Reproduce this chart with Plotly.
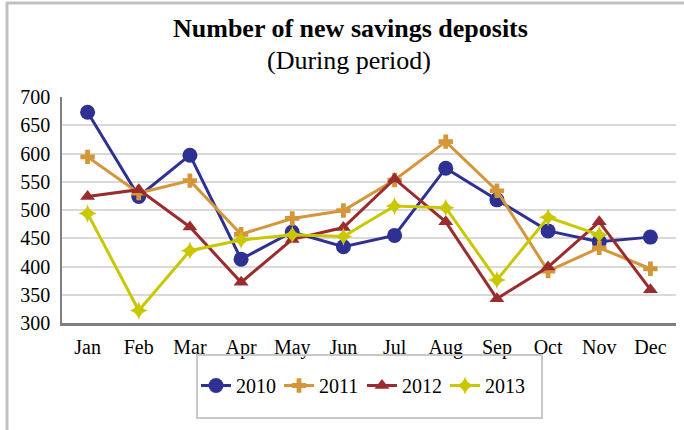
import plotly.graph_objects as go

months = ["Jan", "Feb", "Mar", "Apr", "May", "Jun", "Jul", "Aug", "Sep", "Oct", "Nov", "Dec"]
s2010 = [673, 524, 597, 413, 461, 435, 455, 574, 518, 463, 444, 452]
s2011 = [594, 530, 552, 457, 485, 499, 553, 621, 534, 392, 433, 396]
s2012 = [524, 536, 470, 372, 448, 469, 555, 479, 343, 399, 479, 359]
s2013 = [494, 322, 428, 447, 456, 453, 507, 504, 376, 487, 456, None]
y_ticks = [300, 350, 400, 450, 500, 550, 600, 650, 700]

series = [
    ("2010", s2010, "#2E3192", "circle", 15),
    ("2011", s2011, "#D4963A", "cross", 12),
    ("2012", s2012, "#9A2C2F", "triangle-up", 13),
    ("2013", s2013, "#C9C800", "star-diamond", 13),
]

W, H = 684, 430
L, R, T, B = 62, 676, 97, 323  # plot area in pixels


def px(x):
    return (x - L) / (R - L)


def py(y):
    return (B - y) / (B - T)


fig = go.Figure()
for name, vals, color, sym, size in series:
    fig.add_trace(go.Scatter(
        x=months, y=vals, name=name, mode="lines+markers",
        line=dict(color=color, width=3),
        marker=dict(symbol=sym, size=size, color=color),
    ))

font = "Liberation Serif"
fig.update_layout(
    width=W, height=H,
    paper_bgcolor="white", plot_bgcolor="white",
    margin=dict(l=L, r=W - R, t=T, b=H - B, autoexpand=False),
    font=dict(family=font, color="black", size=20),
    xaxis=dict(
        type="category", showgrid=False, showline=True, linecolor="#7F7F7F", linewidth=2.5,
        ticks="", tickfont=dict(family=font, size=20, color="black"), range=[-0.5, 11.5],
        ticklabelstandoff=4,
    ),
    yaxis=dict(
        range=[300, 700], tickvals=y_ticks, showgrid=True, gridcolor="#D9D9D9", gridwidth=1.5,
        showline=True, linecolor="#7F7F7F", linewidth=1.5, ticks="",
        tickfont=dict(family=font, size=20, color="black"),
        zeroline=False, ticklabelstandoff=6,
    ),
    showlegend=True,
    legend=dict(
        orientation="h", x=px(362), xanchor="center", y=py(366), yanchor="top",
        font=dict(family=font, size=20, color="black"), borderwidth=0, bgcolor="rgba(0,0,0,0)",
        entrywidth=38, entrywidthmode="pixels",
    ),
    annotations=[
        dict(text="<b>Number of new savings deposits</b>", xref="paper", yref="paper",
             x=px(350.5), y=py(28), xanchor="center", yanchor="middle", showarrow=False,
             font=dict(family=font, size=26, color="black")),
        dict(text="(During period)", xref="paper", yref="paper",
             x=px(348.5), y=py(61), xanchor="center", yanchor="middle", showarrow=False,
             font=dict(family=font, size=26, color="black")),
    ],
    shapes=[
        dict(type="rect", xref="paper", yref="paper",
             x0=px(197), x1=px(542), y0=py(418), y1=py(355),
             line=dict(color="#C8C8C8", width=2)),
        dict(type="line", xref="paper", yref="paper",
             x0=px(7), x1=px(7), y0=py(432), y1=py(2),
             line=dict(color="#C0C0C0", width=3)),
        dict(type="line", xref="paper", yref="paper",
             x0=px(6), x1=px(686), y0=py(3), y1=py(3),
             line=dict(color="#C0C0C0", width=3)),
    ],
)

fig.write_html("out.html", config={"displayModeBar": False},
               post_script="document.body.style.margin='0';")
